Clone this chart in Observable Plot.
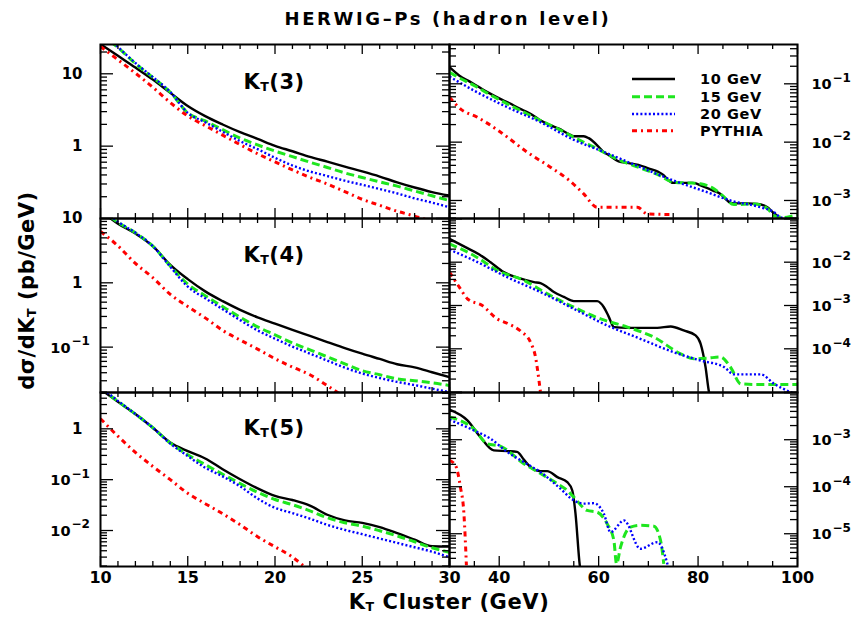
<!DOCTYPE html>
<html><head><meta charset="utf-8">
<script src="https://cdn.jsdelivr.net/npm/d3@7"></script>
<script src="https://cdn.jsdelivr.net/npm/@observablehq/plot@0.6"></script>
<style>
body{margin:0;background:#fff;}
#chart{position:relative;width:852px;height:618px;overflow:hidden;font-family:"DejaVu Sans",sans-serif;font-weight:bold;color:#000;background:#fff;}
#chart svg{position:absolute;left:0;top:0;}
.lbl{position:absolute;white-space:nowrap;line-height:1;}
.lbl sub{font-size:0.6em;vertical-align:-0.12em;}
</style></head><body><div id="chart"></div>
<script>
// ---------------- data ----------------
const titleText = "HERWIG–Ps (hadron level)";
const seriesNames = ["10 GeV", "15 GeV", "20 GeV", "PYTHIA"];
const panelNames = ["3", "4", "5"];

// low-Kt panels (10-30 GeV), common x grid
const xLow = [10,11,12,13,14,15,16,17,18,19,20,21,22,23,24,25,26,27,28,29,30];

const kt3Low_10 = [25.7,17.7,12.2,8.3,5.45,3.59,2.6,1.99,1.56,1.26,1.01,0.85,0.71,0.61,0.52,0.447,0.38,0.316,0.268,0.232,0.207];
const kt3Low_15 = [35,23,13.8,8.9,5.56,2.88,2.23,1.69,1.29,1.04,0.855,0.716,0.60,0.507,0.427,0.369,0.321,0.28,0.24,0.206,0.177];
const kt3Low_20 = [38,23.4,14.1,9,5.6,2.88,2.14,1.58,1.17,0.91,0.69,0.54,0.447,0.386,0.333,0.292,0.255,0.222,0.19,0.166,0.143];
const kt3Low_py = [23.9,15.6,10.2,6.5,4.0,2.61,1.92,1.42,1.05,0.785,0.607,0.47,0.37,0.30,0.235,0.184,0.152,0.126,0.108,0.091,0.079];

const kt4Low_10 = [13.2,8.3,5.83,3.71,1.90,1.14,0.736,0.518,0.38,0.291,0.232,0.185,0.149,0.12,0.0966,0.079,0.0655,0.0542,0.0484,0.0407,0.0341];
const kt4Low_15 = [14.1,8.7,6.0,3.72,1.82,0.955,0.631,0.427,0.292,0.207,0.155,0.116,0.0906,0.0705,0.0548,0.043,0.0372,0.0321,0.03,0.0279,0.0253];
const kt4Low_20 = [14.8,8.9,6.0,3.72,1.78,0.871,0.575,0.389,0.263,0.182,0.135,0.102,0.0794,0.0617,0.0479,0.0389,0.0331,0.0288,0.0257,0.0226,0.02];
const kt4Low_py = [6.3,3.76,2.0,1.2,0.66,0.427,0.285,0.182,0.129,0.0933,0.066,0.049,0.0372,0.0251,0.0166];

const kt5Low_10 = [6.0,3.39,1.95,1.05,0.537,0.363,0.261,0.16,0.102,0.0676,0.0479,0.0398,0.0309,0.0204,0.0158,0.0141,0.0117,0.00891,0.00661,0.0049,0.00482];
const kt5Low_15 = [6.3,3.47,1.95,1.05,0.525,0.309,0.198,0.128,0.084,0.0566,0.0408,0.0322,0.0244,0.0178,0.01426,0.0122,0.00989,0.00783,0.00601,0.00457,0.00372];
const kt5Low_20 = [6.6,3.55,1.95,1.05,0.513,0.291,0.172,0.116,0.0739,0.0426,0.028,0.022,0.0171,0.0129,0.0103,0.00847,0.00695,0.0057,0.00468,0.00384,0.00297];
const kt5Low_py = [1.58,0.716,0.344,0.182,0.1,0.054,0.0337,0.0214,0.013,0.00755,0.00478,0.003,0.00158];

// high-Kt panels (30-100 GeV)
const kt3High_10_x = [30,32,34,36,38,40,42,44,46,48,50,52,54,55,57,58,60,61,62,64,66,68,70,72,73,74,75,77,79,81,83,84.5,85.5,86.5,88,90,92,94,95,96.3,97];
const kt3High_10_y = [0.193,0.138,0.110,0.0871,0.0692,0.0562,0.0468,0.0380,0.0316,0.0245,0.0200,0.0170,0.0138,0.0126,0.0126,0.0117,0.00832,0.00676,0.00603,0.00468,0.00437,0.00407,0.00355,0.00309,0.00275,0.00224,0.00200,0.00200,0.00200,0.00174,0.00148,0.00129,0.00107,0.000912,0.000891,0.000891,0.000871,0.000759,0.000631,0.000513,0.000447];
const kt3High_15_x = [30,32,35,38,41.6,45,48.3,52,55,58,60.4,64.4,67,69.8,72,75.1,78,80.5,83.2,85,87.2,91.2,94,95.3,97.3,99.3,100];
const kt3High_15_y = [0.158,0.126,0.0933,0.0661,0.0454,0.0324,0.0234,0.0166,0.0121,0.00912,0.00718,0.00483,0.00398,0.00326,0.00275,0.00205,0.00200,0.00193,0.00158,0.00120,0.000851,0.000871,0.000724,0.000550,0.000513,0.000550,0.000562];
const kt3High_20_x = [30,34.9,41.6,48.3,55,61.7,68.4,75.1,81.9,86.5,92.6,95.3,96.6,100];
const kt3High_20_y = [0.133,0.0767,0.0398,0.0220,0.01096,0.00646,0.00372,0.00219,0.00138,0.001,0.000764,0.000631,0.000513,0.000468];
const kt3High_py_x = [30,32.2,35.6,40.3,45.6,50.3,54,57,59.7,63,67.8,69.8,74.5];
const kt3High_py_y = [0.0589,0.0372,0.0267,0.0148,0.00676,0.00372,0.00224,0.0013,0.000764,0.000764,0.000764,0.000589,0.000575];

const kt4High_10_x = [30,33.2,36,38.25,40.9,44,47,48.3,49.5,51,53,55,59.7,61.05,62,63.1,65.8,71.8,74.5,77.1,79.5,80.5,81.5,82.2,82.4];
const kt4High_10_y = [0.0347,0.0222,0.0151,0.01,0.00589,0.00427,0.00347,0.00327,0.00275,0.00204,0.00158,0.00126,0.00126,0.000912,0.000562,0.000316,0.000305,0.000305,0.000327,0.000265,0.000204,0.000132,0.000038,0.00001,0.000008];
const kt4High_15_x = [30,34.9,40.3,44.3,49.7,55,60.4,65.8,71.1,76.5,79.2,81.9,84.5,86.5,88.6,91.9,100];
const kt4High_15_y = [0.0266,0.0143,0.00589,0.00412,0.00186,0.000912,0.00049,0.000316,0.000186,0.0000767,0.0000589,0.000061,0.0000646,0.000038,0.0000155,0.000015,0.000015];
const kt4High_20_x = [30,34.9,41.6,48.3,55,61.7,68.4,75.1,80.5,85.2,87.2,92.6,95.3,98.6,100];
const kt4High_20_y = [0.0195,0.011,0.00451,0.00204,0.000838,0.000347,0.00017,0.0000832,0.0000537,0.000038,0.0000257,0.0000257,0.0000155,0.00001,0.0000085];
const kt4High_py_x = [30,32.2,33.6,36.6,39.6,41.6,44.3,46.3,47.3,48.0,48.3];
const kt4High_py_y = [0.00589,0.00243,0.00143,0.001,0.00049,0.000389,0.000257,0.000141,0.0000646,0.0000186,0.00001];

const kt5High_10_x = [30,33.6,36.2,38.9,41.6,43.6,45,46.3,48.3,49.65,51.7,53.7,54.7,55.35,56.2,56.4];
const kt5High_10_y = [0.00435,0.00257,0.00114,0.000592,0.000571,0.00055,0.000372,0.000263,0.000215,0.000215,0.00016,0.000125,0.0000832,0.0000266,0.00000214,0.0000015];
const kt5High_15_x = [30,34.9,37.6,40.3,44.95,48.3,51.7,53.7,55,57.7,59.7,61.7,63.06,63.6,64.4,66.4,68.4,71.1,72.45,73.1];
const kt5High_15_y = [0.00304,0.0017,0.000822,0.000724,0.000309,0.000191,0.000116,0.0000832,0.0000603,0.0000313,0.0000288,0.0000163,0.00000724,0.00000229,0.00000519,0.0000138,0.0000151,0.0000145,0.00000724,0.00000229];
const kt5High_20_x = [30,34.9,38.25,41.6,45,48.3,52.3,55,57,59,61.05,62.4,65.1,68.4,71.8,73.8,74.2];
const kt5High_20_y = [0.00267,0.00158,0.00105,0.00055,0.000331,0.000204,0.0000912,0.0000513,0.0000437,0.0000447,0.0000266,0.0000108,0.0000192,0.00000479,0.00000661,0.00000234,0.0000016];
const kt5High_py_x = [30,31.2,32.2,32.9,33.4];
const kt5High_py_y = [0.000363,0.000284,0.0000977,0.0000266,0.00000214];

// axis domains and tick labels
const xDomainLow = [10, 30];
const xDomainHigh = [30, 100];
const yDomainKt3Low = [0.1, 25.4];
const yDomainKt4Low = [0.0197, 10];
const yDomainKt5Low = [0.00196, 5.18];
const yDomainKt3High = [0.000491, 0.472];
const yDomainKt4High = [0.0000098, 0.102];
const yDomainKt5High = [0.00000201, 0.0101];
const yLabelsKt3Low = [10, 1];
const yLabelsKt4Low = [10, 1, 0.1];
const yLabelsKt5Low = [1, 0.1, 0.01];
const yLabelsKt3High = [0.1, 0.01, 0.001];
const yLabelsKt4High = [0.01, 0.001, 0.0001];
const yLabelsKt5High = [0.001, 0.0001, 0.00001];
const xLabelsLow = [10, 15, 20, 25, 30];
const xLabelsHigh = [40, 60, 80, 100];
const xMajorLow = [10, 15, 20, 25, 30];
const xMajorHigh = [40, 60, 80, 100];

// ---------------- drawing ----------------
const W = 852, H = 618;
const colX = [100, 449, 797];
const rowY = [44, 218, 392, 566];
const FONT = "DejaVu Sans, sans-serif";
const styles = [
  {stroke: "#000000", strokeWidth: 2.4, strokeDasharray: null, strokeLinecap: "round"},
  {stroke: "#1ee61e", strokeWidth: 3, strokeDasharray: "8,4", strokeLinecap: "butt"},
  {stroke: "#0000ff", strokeWidth: 2.4, strokeDasharray: "2,2.2", strokeLinecap: "butt"},
  {stroke: "#ff0000", strokeWidth: 3, strokeDasharray: "5,4,2,4", strokeLinecap: "butt"}
];

function pairs(xs, ys) { return ys.map((y, i) => ({x: xs[i], y})); }

function logTicks([lo, hi]) {
  const out = [];
  for (let e = Math.floor(Math.log10(lo)); e <= Math.ceil(Math.log10(hi)); e++)
    for (let k = 1; k <= 9; k++) {
      const v = +(k * Math.pow(10, e)).toPrecision(6);
      if (v >= lo * 0.999 && v <= hi * 1.001) out.push({v, major: k === 1});
    }
  return out;
}

function labelParts(v) {
  if (v >= 1) return {v, base: String(v), exp: ""};
  return {v, base: "10", exp: "\u2212" + Math.round(-Math.log10(v))};
}

const chart = document.getElementById("chart");

function panel({col, row, xDomain, yDomain, series, yLabels, xMinor, xMajor, xLabels}) {
  const left = colX[col], right = colX[col + 1], top = rowY[row], bottom = rowY[row + 1];
  const pw = right - left, ph = bottom - top;
  const marks = [];
  series.forEach((data, i) => {
    marks.push(Plot.line(data, {x: "x", y: "y", ...styles[i], curve: "monotone-x", clip: true, strokeLinejoin: "round"}));
  });
  const yt = logTicks(yDomain);
  const maj = yt.filter(d => d.major), min = yt.filter(d => !d.major);
  const tk = {stroke: "#000", strokeWidth: 1.3};
  marks.push(Plot.tickY(maj, {y: "v", insetRight: pw - 13, ...tk}));
  marks.push(Plot.tickY(min, {y: "v", insetRight: pw - 7, ...tk}));
  marks.push(Plot.tickY(maj, {y: "v", insetLeft: pw - 13, ...tk}));
  marks.push(Plot.tickY(min, {y: "v", insetLeft: pw - 7, ...tk}));
  const xmin = xMinor.filter(v => !xMajor.includes(v));
  marks.push(Plot.tickX(xMajor, {x: d => d, insetTop: ph - 10, ...tk}));
  marks.push(Plot.tickX(xmin, {x: d => d, insetTop: ph - 5, ...tk}));
  marks.push(Plot.tickX(xMajor, {x: d => d, insetBottom: ph - 10, ...tk}));
  marks.push(Plot.tickX(xmin, {x: d => d, insetBottom: ph - 5, ...tk}));
  marks.push(Plot.frame({stroke: "#000", strokeWidth: 2}));
  const lab = yLabels.map(labelParts);
  const txt = {fontFamily: FONT, fontWeight: "bold", fill: "#000"};
  if (col === 0) {
    marks.push(Plot.text(lab.filter(d => !d.exp), {y: "v", text: "base", frameAnchor: "left", textAnchor: "end", dx: -18, fontSize: 15, ...txt}));
    marks.push(Plot.text(lab.filter(d => d.exp), {y: "v", text: "base", frameAnchor: "left", textAnchor: "end", dx: -30, dy: 1, fontSize: 14.5, ...txt}));
    marks.push(Plot.text(lab.filter(d => d.exp), {y: "v", text: "exp", frameAnchor: "left", textAnchor: "start", dx: -29, dy: -6, fontSize: 12, ...txt}));
  } else {
    marks.push(Plot.text(lab, {y: "v", text: "base", frameAnchor: "right", textAnchor: "start", dx: 14, dy: 1, fontSize: 14.5, ...txt}));
    marks.push(Plot.text(lab, {y: "v", text: "exp", frameAnchor: "right", textAnchor: "start", dx: 35, dy: -6, fontSize: 12, ...txt}));
  }
  if (xLabels) {
    marks.push(Plot.text(xLabels, {x: d => d, text: d => String(d), frameAnchor: "bottom", dy: 16, fontSize: 16, ...txt}));
  }
  const svg = Plot.plot({
    width: W, height: H,
    marginLeft: left, marginRight: W - right, marginTop: top, marginBottom: H - bottom,
    x: {type: "linear", domain: xDomain, axis: null},
    y: {type: "log", domain: yDomain, axis: null},
    style: {background: "transparent", overflow: "visible", fontFamily: FONT},
    marks
  });
  svg.style.position = "absolute"; svg.style.left = "0px"; svg.style.top = "0px";
  svg.style.maxWidth = "none";
  chart.appendChild(svg);
}

const lowMinor = d3.range(10, 31, 1), highMinor = d3.range(30, 101, 5);
panel({col: 0, row: 0, xDomain: xDomainLow, yDomain: yDomainKt3Low, yLabels: yLabelsKt3Low, xMinor: lowMinor, xMajor: xMajorLow,
  series: [kt3Low_10, kt3Low_15, kt3Low_20, kt3Low_py].map(a => pairs(xLow, a))});
panel({col: 1, row: 0, xDomain: xDomainHigh, yDomain: yDomainKt3High, yLabels: yLabelsKt3High, xMinor: highMinor, xMajor: xMajorHigh,
  series: [pairs(kt3High_10_x, kt3High_10_y), pairs(kt3High_15_x, kt3High_15_y), pairs(kt3High_20_x, kt3High_20_y), pairs(kt3High_py_x, kt3High_py_y)]});
panel({col: 0, row: 1, xDomain: xDomainLow, yDomain: yDomainKt4Low, yLabels: yLabelsKt4Low, xMinor: lowMinor, xMajor: xMajorLow,
  series: [kt4Low_10, kt4Low_15, kt4Low_20, kt4Low_py].map(a => pairs(xLow, a))});
panel({col: 1, row: 1, xDomain: xDomainHigh, yDomain: yDomainKt4High, yLabels: yLabelsKt4High, xMinor: highMinor, xMajor: xMajorHigh,
  series: [pairs(kt4High_10_x, kt4High_10_y), pairs(kt4High_15_x, kt4High_15_y), pairs(kt4High_20_x, kt4High_20_y), pairs(kt4High_py_x, kt4High_py_y)]});
panel({col: 0, row: 2, xDomain: xDomainLow, yDomain: yDomainKt5Low, yLabels: yLabelsKt5Low, xMinor: lowMinor, xMajor: xMajorLow, xLabels: xLabelsLow,
  series: [kt5Low_10, kt5Low_15, kt5Low_20, kt5Low_py].map(a => pairs(xLow, a))});
panel({col: 1, row: 2, xDomain: xDomainHigh, yDomain: yDomainKt5High, yLabels: yLabelsKt5High, xMinor: highMinor, xMajor: xMajorHigh, xLabels: xLabelsHigh,
  series: [pairs(kt5High_10_x, kt5High_10_y), pairs(kt5High_15_x, kt5High_15_y), pairs(kt5High_20_x, kt5High_20_y), pairs(kt5High_py_x, kt5High_py_y)]});

// HTML text: title, axis titles, panel labels, legend
function label(html, cx, cy, fs, extra = "") {
  const d = document.createElement("div");
  d.className = "lbl";
  d.innerHTML = html;
  d.style.cssText += `left:${cx - 300}px;width:600px;text-align:center;top:${cy - 0.48 * fs}px;font-size:${fs}px;${extra}`;
  chart.appendChild(d);
  return d;
}
label(titleText, 448, 18.3, 18, "letter-spacing:2.6px;");
panelNames.forEach((n, i) => label(`K<sub>T</sub>(${n})`, 274, [81.7, 255, 428.3][i], 21, "letter-spacing:0.5px;"));
label("K<sub>T</sub> Cluster (GeV)", 449, 602.5, 21, "letter-spacing:0.6px;");
label("d\u03c3/dK<sub>T</sub> (pb/GeV)", 27.5, 290, 21, "letter-spacing:0.5px;transform:rotate(-90deg);");

// legend (inside KT(3) high panel)
const legY = [79, 96.7, 114, 130.7];
const ns = "http://www.w3.org/2000/svg";
const lsvg = document.createElementNS(ns, "svg");
lsvg.setAttribute("width", W); lsvg.setAttribute("height", H);
lsvg.style.position = "absolute"; lsvg.style.left = "0"; lsvg.style.top = "0";
seriesNames.forEach((name, i) => {
  const ln = document.createElementNS(ns, "line");
  ln.setAttribute("x1", 632); ln.setAttribute("x2", 675);
  ln.setAttribute("y1", legY[i]); ln.setAttribute("y2", legY[i]);
  ln.setAttribute("stroke", styles[i].stroke);
  ln.setAttribute("stroke-width", styles[i].strokeWidth);
  ln.setAttribute("stroke-linecap", "butt");
  if (styles[i].strokeDasharray) ln.setAttribute("stroke-dasharray", styles[i].strokeDasharray);
  lsvg.appendChild(ln);
});
chart.appendChild(lsvg);
seriesNames.forEach((name, i) => {
  const d = document.createElement("div");
  d.className = "lbl";
  d.textContent = name;
  d.style.cssText += `left:700px;top:${legY[i] - 0.48 * 14.5}px;font-size:14.5px;letter-spacing:0.6px;`;
  chart.appendChild(d);
});
</script></body></html>
